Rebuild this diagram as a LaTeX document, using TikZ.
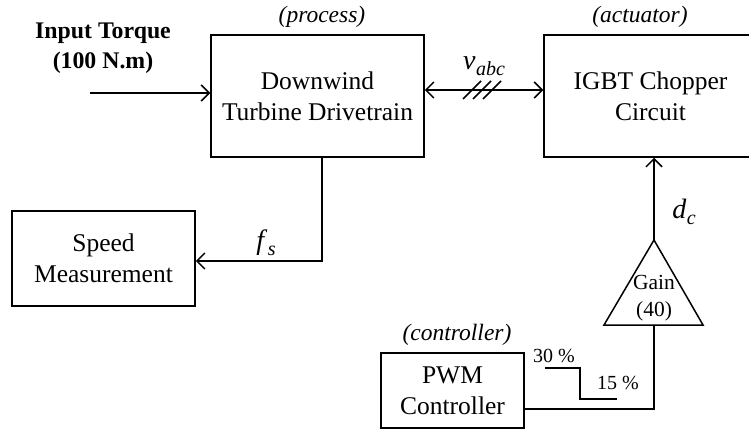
\documentclass[tikz,border=0pt]{standalone}
\usepackage{fontspec}
\setmainfont{Liberation Serif}
\usetikzlibrary{arrows.meta}
\usetikzlibrary{positioning}
\newcommand{\sigsub}[2]{\textit{#1}\kern0.5pt\raisebox{-0.22em}{\fontsize{20}{20}\selectfont\textit{#2}}}

\begin{document}
\begin{tikzpicture}[x=1pt,y=-1pt,
  line width=1.5pt,
  >={Straight Barb[length=8pt,width=16pt,line width=1.5pt]},
  block/.style={draw,rectangle,align=center,inner sep=0pt,
    font=\fontsize{25.5}{31}\selectfont},
  tag/.style={font=\fontsize{23.5}{28}\selectfont\itshape},
  sig/.style={font=\fontsize{28}{32}\selectfont},
  small/.style={align=center,inner sep=0pt,font=\fontsize{21.5}{27}\selectfont},
  pct/.style={inner sep=0pt,font=\fontsize{20}{24}\selectfont}]
\useasboundingbox (0,0) rectangle (749,430);

% blocks
\node[block,minimum width=213,minimum height=122] (turbine) at (317.5,96)
  {Downwind\\Turbine Drivetrain};
\node[block,minimum width=213,minimum height=122] (chopper) at (650.5,96)
  {IGBT Chopper\\Circuit};
\node[block,minimum width=183,minimum height=95] (speed) at (103.5,258.5)
  {Speed\\Measurement};
\node[block,minimum width=143,minimum height=75] (pwm) at (452.5,390.5)
  {PWM\\Controller};

\node[tag] (tproc) at (322,17) {(process)};
\node[tag] (tact) at (640,17) {(actuator)};
\node[tag] (tctrl) at (457,335) {(controller)};

% gain triangle
\coordinate (gaintop) at (654,240);
\coordinate (gainbot) at (654,325);
\draw (gaintop) -- (703,325) -- (604,325) -- cycle;
\node[small] (gain) at (654,298) {Gain\\(40)};

% signals
\node[align=center,inner sep=0pt,font=\fontsize{23.8}{30}\selectfont\bfseries]
  (torque) at (103,48) {Input Torque\\(100 N.m)};
\coordinate (torquein) at (90,93);
\draw[->] (torquein) -- (torquein -| turbine.west);

\draw[<->] ([yshift=6]turbine.east) -- ([yshift=6]chopper.west);
\foreach \hx in {472,482,492}
  \draw (\hx-9,99) -- (\hx+9,81);
\node[sig] (vabc) at (484,66) {\sigsub{v}{abc}};

\draw[->] ([xshift=4.5]turbine.south) |- ([yshift=-2.5]speed.east);
\node[sig] (fs) at (266,243) {\sigsub{f}{s}};

\draw[->] (gaintop) -- (gaintop |- chopper.south);
\node[sig] (dc) at (684,212) {\sigsub{d}{c}};

\coordinate (pwmout) at (524,409);
\draw (pwmout) -| (gainbot);

% duty cycle step
\draw[line width=1.2pt] (545,368) -- (580,368) -- (580,399) -- (617,399);
\node[pct] (hi) at (554,356) {30 \%};
\node[pct] (lo) at (618,383) {15 \%};
\end{tikzpicture}
\end{document}
